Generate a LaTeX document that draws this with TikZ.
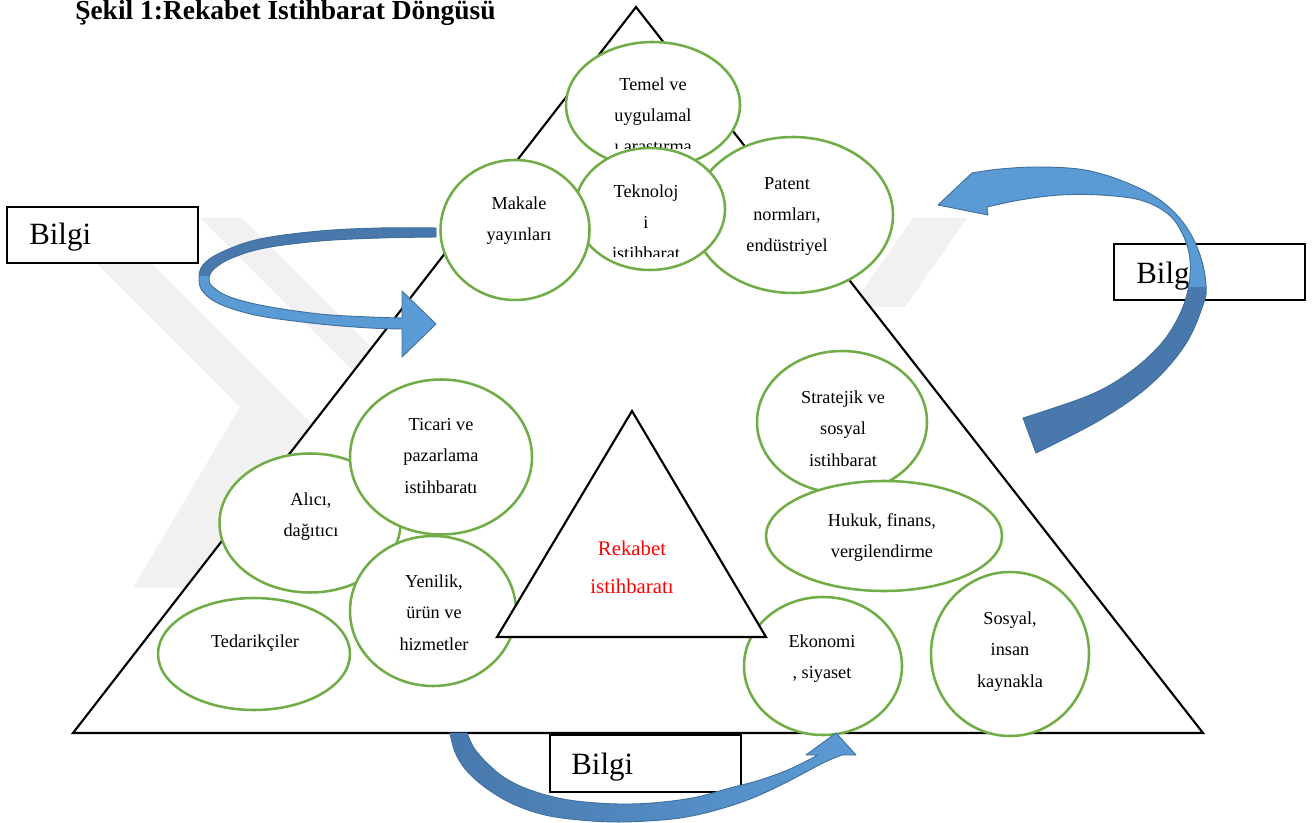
\documentclass[tikz,border=0pt]{standalone}
\usepackage{fontspec}
\setmainfont{Liberation Serif}
\usetikzlibrary{shapes.geometric}
\definecolor{egreen}{HTML}{70AD47}
\definecolor{blight}{HTML}{5B9BD5}
\definecolor{bdark}{HTML}{4878AC}
\definecolor{bedge}{HTML}{41719C}
\definecolor{wmark}{HTML}{F1F1F1}
\definecolor{rtext}{HTML}{FF0000}
\tikzset{
  ellnode/.style 2 args={ellipse, draw=egreen, line width=1.9pt, fill=white,
    minimum width=#1*0.75pt, minimum height=#2*0.75pt, inner sep=0pt},
  etext/.style={align=center, inner sep=0pt, anchor=base,
    font=\fontsize{13.7}{23.6}\selectfont},
  redtext/.style={align=center, inner sep=0pt, anchor=base, text=rtext,
    font=\fontsize{15.6}{28.5}\selectfont},
  bilgibox/.style 2 args={draw=black, line width=1.5pt, fill=white,
    minimum width=#1*0.75pt, minimum height=#2*0.75pt, inner sep=0pt},
  btext/.style={anchor=base west, inner sep=0pt, font=\fontsize{23.2}{28}\selectfont},
  tri/.style={draw=black, line width=1.6pt, fill=white, line join=miter},
  barrow/.style={draw=bedge, line width=0.7pt, line join=round}
}
\begin{document}
\begin{tikzpicture}[x=0.75pt, y=-0.75pt]
\useasboundingbox (0,0) rectangle (1313,823);
% watermark
\fill[wmark] (200,218) -- (242,218) -- (402,378) -- (360,378) -- cycle;
\fill[wmark] (95,262) -- (150,262) -- (320,432) -- (223,588) -- (133,588) -- (240,407) -- cycle;
\fill[wmark] (913,218) -- (967,218) -- (905,307) -- (851,307) -- cycle;
% big triangle
\coordinate (A) at (636,7);
\coordinate (B) at (73,733);
\coordinate (C) at (1203,733);
\draw[tri] (A) -- (B) -- (C) -- cycle;
% left Bilgi box
\node[bilgibox={191}{56}] (boxL) at (102.5,235) {};
\node[btext] (boxLt) at (29,245) {Bilgi};
% left curved arrow
\newcommand{\LArrowPath}{plot[smooth, tension=0.6] coordinates {(436,228) (380,228) (320,231) (260,239) (222,252) (203,265) (199,280) (204,293) (222,305) (260,316) (320,324) (370,328) (402,329)} -- (402,357) -- (436,324) -- (402,291) -- plot[smooth, tension=0.6] coordinates {(402,318) (370,317) (320,314) (265,306) (230,297) (213,287) (209,279) (214,269) (232,258) (265,248) (320,241) (380,238) (436,237)} -- cycle}
\fill[blight] \LArrowPath;
\begin{scope}
\clip (150,200) rectangle (440,276);
\fill[bdark] \LArrowPath;
\end{scope}
\draw[barrow] \LArrowPath;
% top ellipses
\node[ellnode={174}{126}] (temel) at (653,105) {};
\begin{scope}
\clip (540,40) rectangle (760,148.5);
\node[etext] (temelt) at (653,153) {Temel ve\\uygulamal\\ı araştırma};
\end{scope}
\node[ellnode={200}{156}] (patent) at (793,215) {};
\node[etext] (patentt) at (787,252) {Patent\\normları,\\endüstriyel};
\node[ellnode={150}{122}] (tekno) at (650,209) {};
\begin{scope}
\clip (570,150) rectangle (730,257);
\node[etext] (teknot) at (646,260) {Teknoloj\\i\\istihbarat};
\end{scope}
\node[ellnode={149}{140}] (makale) at (515,230) {};
\node[etext] (makalet) at (519,240.5) {Makale\\yayınları};
% right ellipses
\node[ellnode={170}{142}] (strat) at (842,422) {};
\node[etext] (stratt) at (843,466) {Stratejik ve\\sosyal\\istihbarat};
\node[ellnode={236}{110}] (hukuk) at (884,536) {};
\node[etext] (hukukt) at (882,557.5) {Hukuk, finans,\\vergilendirme};
% left ellipses
\node[ellnode={181}{139}] (alici) at (310,523) {};
\node[etext] (alicit) at (311,536.5) {Alıcı,\\dağıtıcı};
\node[ellnode={182}{155}] (ticari) at (441,457) {};
\node[etext] (ticarit) at (441,493) {Ticari ve\\pazarlama\\istihbaratı};
\node[ellnode={166}{150}] (yenilik) at (433,611) {};
\node[etext] (yenilikt) at (434,650) {Yenilik,\\ürün ve\\hizmetler};
\node[ellnode={192}{112}] (tedarik) at (254,654) {};
\node[etext] (tedarikt) at (255,647) {Tedarikçiler};
% bottom right ellipses
\node[ellnode={158}{138}] (ekonomi) at (823,666) {};
\node[etext] (ekonomit) at (822,678.5) {Ekonomi\\, siyaset};
\node[ellnode={158}{164}] (sosyal) at (1010,654) {};
\node[etext] (sosyalt) at (1010,687) {Sosyal,\\insan\\kaynakla};
% inner triangle
\coordinate (D) at (632,411);
\coordinate (E) at (497,637);
\coordinate (F) at (766,637);
\draw[tri] (D) -- (E) -- (F) -- cycle;
\node[redtext] (rekabet) at (632,593) {Rekabet\\istihbaratı};
% right Bilgi box and arrow
\node[bilgibox={191}{56}] (boxR) at (1209.5,272.5) {};
\node[btext] (boxRt) at (1136,284) {Bilgi};
\newcommand{\RArrowPath}{plot[smooth, tension=0.6] coordinates {(1036,453) (1100,420) (1150,385) (1185,345) (1203,305) (1206,285) (1200,255) (1185,225) (1160,200) (1125,182) (1085,170) (1040,167) (1000,169) (972,173)} -- (938,205) -- (988,215) -- plot[smooth, tension=0.6] coordinates {(987,207) (1020,200) (1060,195) (1100,195) (1140,200) (1168,214) (1183,235) (1190,260) (1188,290) (1178,318) (1160,345) (1130,372) (1090,395) (1023,418)} -- cycle}
\fill[blight] \RArrowPath;
\begin{scope}
\clip (900,288) rectangle (1313,470);
\fill[bdark] \RArrowPath;
\end{scope}
\draw[barrow] \RArrowPath;
% bottom Bilgi box and arrow
\node[bilgibox={191}{57}] (boxB) at (645.5,763.5) {};
\node[btext] (boxBt) at (571,774) {Bilgi};
\newcommand{\BArrowPath}{plot[smooth, tension=0.6] coordinates {(450,733) (455,752) (466,770) (486,788) (513,804) (545,815) (580,820) (615,822) (647,821) (680,818) (713,811) (750,799) (785,783) (823,763) (842,755)} -- (856,755) -- (836,733) -- (806,755) -- plot[smooth, tension=0.6] coordinates {(818,755) (790,769) (760,780) (730,788) (697,797) (663,802) (630,804) (597,803) (563,799) (530,790) (505,778) (487,763) (474,748) (467,733)} -- cycle}
\shade[left color=bdark, right color=blight] \BArrowPath;
\draw[barrow] \BArrowPath;
% title
\node[anchor=base west, inner sep=0pt, font=\fontsize{20.6}{24}\selectfont\bfseries] (title) at (75,20) {Şekil 1:Rekabet İstihbarat Döngüsü};
\end{tikzpicture}
\end{document}
